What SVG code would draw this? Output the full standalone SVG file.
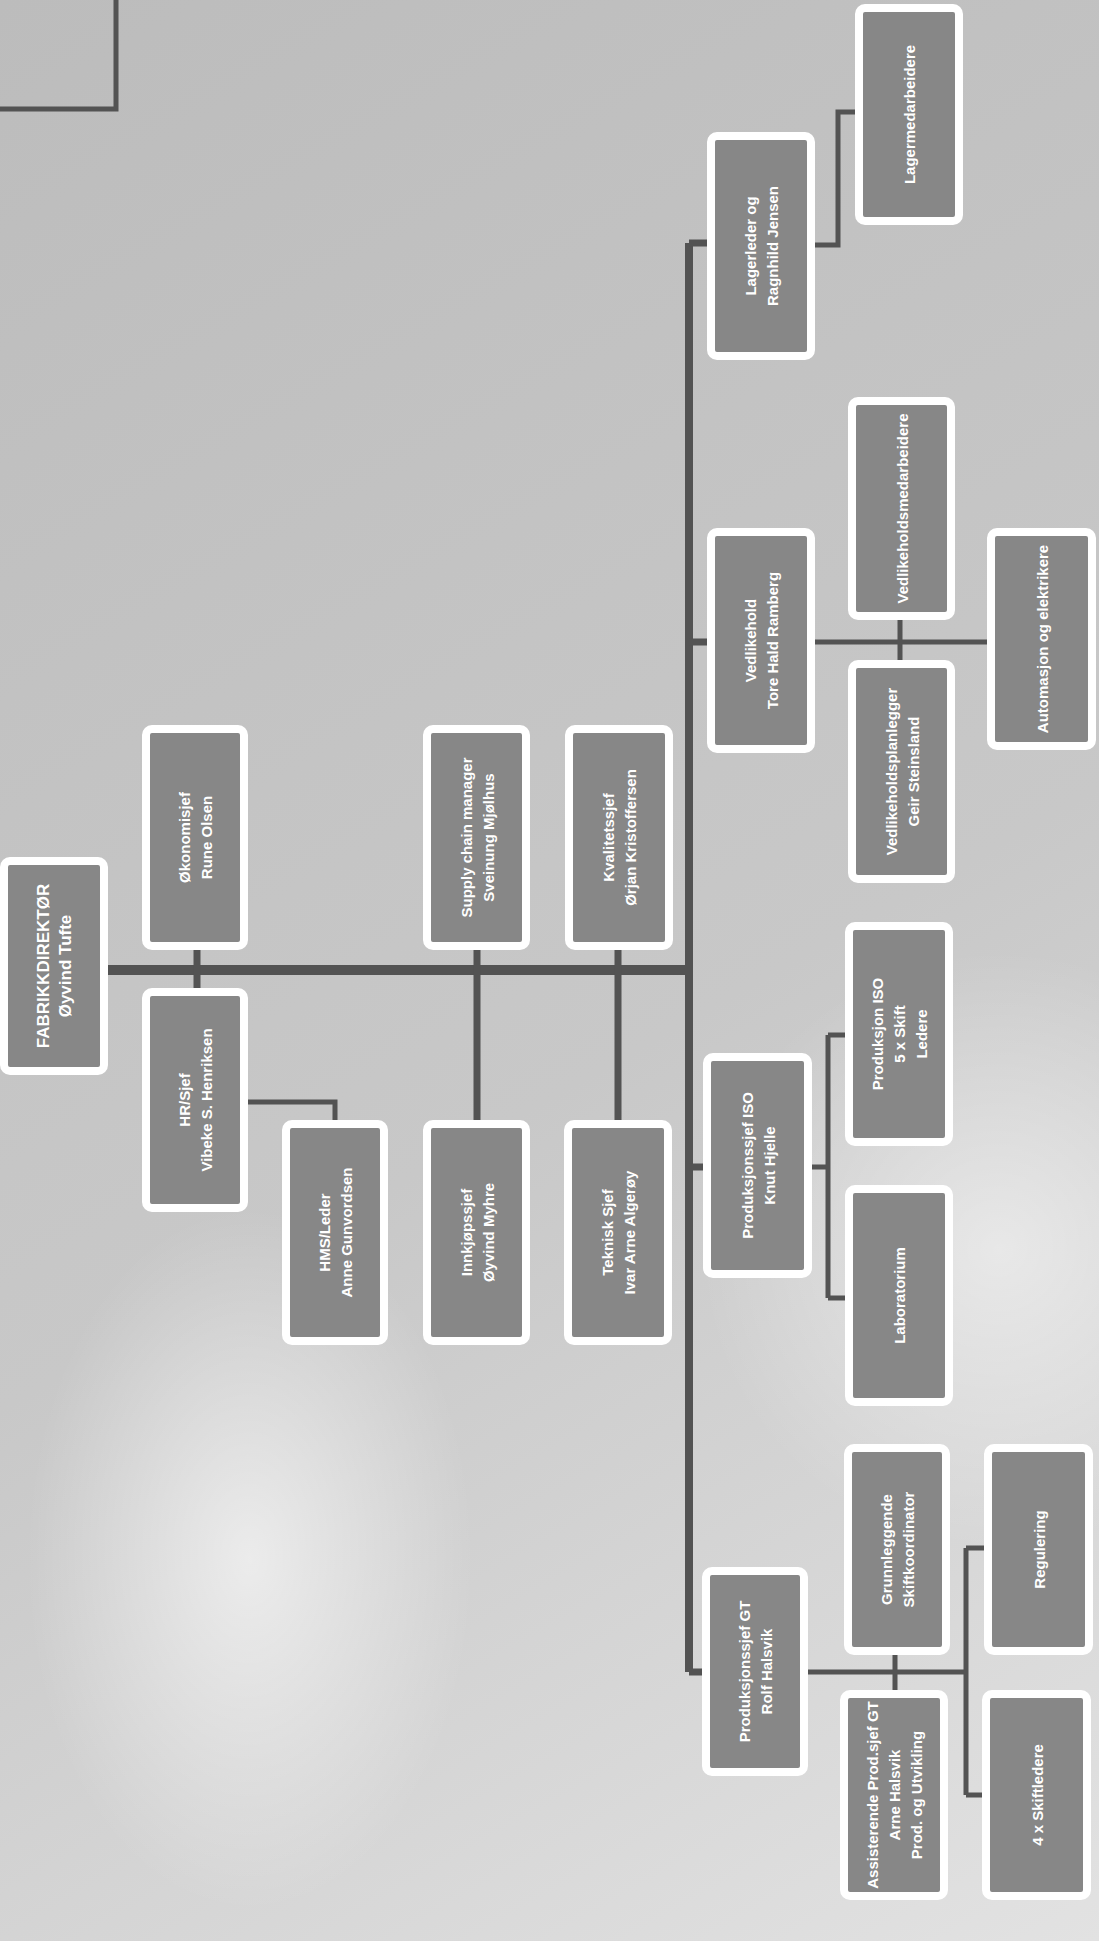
<svg xmlns="http://www.w3.org/2000/svg" width="1099" height="1941" viewBox="0 0 1099 1941">
<defs>
<linearGradient id="bg" x1="0" y1="0" x2="1099" y2="1941" gradientUnits="userSpaceOnUse">
<stop offset="0" stop-color="#bcbcbc"/>
<stop offset="0.55" stop-color="#c8c8c8"/>
<stop offset="1" stop-color="#e2e2e2"/>
</linearGradient>
<radialGradient id="cloud" cx="250" cy="1560" r="320" gradientUnits="userSpaceOnUse" gradientTransform="translate(250 1560) scale(0.7 1.1) translate(-250 -1560)">
<stop offset="0" stop-color="#ffffff" stop-opacity="0.6"/>
<stop offset="1" stop-color="#ffffff" stop-opacity="0"/>
</radialGradient>
<radialGradient id="cloud2" cx="1000" cy="1250" r="300" gradientUnits="userSpaceOnUse">
<stop offset="0" stop-color="#ffffff" stop-opacity="0.5"/>
<stop offset="1" stop-color="#ffffff" stop-opacity="0"/>
</radialGradient>
</defs>
<style>
.box{fill:#878787;stroke:#ffffff;stroke-width:8}
.lbl{fill:#ffffff;font-family:"Liberation Sans",Arial,sans-serif;font-size:15px;font-weight:bold;text-anchor:middle;dominant-baseline:central}
.big{font-size:17px}
.conn path{fill:none;stroke:#535353;stroke-linecap:butt;stroke-linejoin:miter}
.w10{stroke-width:10}
.w8{stroke-width:8}
.w7{stroke-width:7}
.w5{stroke-width:5}
</style>
<rect x="0" y="0" width="1099" height="1941" fill="url(#bg)"/>
<rect x="0" y="1100" width="700" height="841" fill="url(#cloud)"/>
<rect x="600" y="900" width="499" height="700" fill="url(#cloud2)"/>

<g id="connectors" class="conn">
<path class="w5" d="M116,0 V109 H0"/>
<path class="w10" d="M104,970 H689"/>
<path class="w8" d="M689,243 V1672"/>
<path class="w7" d="M689,243 H711 M689,642 H711 M689,1167 H707 M689,1672 H706"/>
<path class="w7" d="M197,950 V988"/>
<path class="w5" d="M248,1102 H335 V1120"/>
<path class="w7" d="M477,950 V1120"/>
<path class="w7" d="M618,950 V1120"/>
<path class="w5" d="M815,245 H838 V112 H855"/>
<path class="w5" d="M815,642 H988 M900,620 V660"/>
<path class="w5" d="M812,1167 H828 M828,1035 V1298 M828,1035 H845 M828,1298 H845"/>
<path class="w5" d="M808,1672 H967 M895,1655 V1690 M966,1548 V1795 M966,1548 H984 M966,1795 H982"/>
</g>

<g id="n-root"><rect class="box" x="4" y="861" width="100" height="210" rx="6"/>
<text class="lbl big" transform="translate(54,966) rotate(-90)"><tspan x="0" y="-11">FABRIKKDIREKTØR</tspan><tspan x="0" y="11">Øyvind Tufte</tspan></text></g>

<g id="n-oko"><rect class="box" x="146" y="729" width="98" height="217" rx="6"/>
<text class="lbl" transform="translate(195,837.5) rotate(-90)"><tspan x="0" y="-11">Økonomisjef</tspan><tspan x="0" y="11">Rune Olsen</tspan></text></g>

<g id="n-hr"><rect class="box" x="146" y="992" width="98" height="216" rx="6"/>
<text class="lbl" transform="translate(195,1100) rotate(-90)"><tspan x="0" y="-11">HR/Sjef</tspan><tspan x="0" y="11">Vibeke S. Henriksen</tspan></text></g>

<g id="n-hms"><rect class="box" x="286" y="1124" width="98" height="217" rx="6"/>
<text class="lbl" transform="translate(335,1232.5) rotate(-90)"><tspan x="0" y="-11">HMS/Leder</tspan><tspan x="0" y="11">Anne Gunvordsen</tspan></text></g>

<g id="n-sup"><rect class="box" x="427" y="729" width="99" height="217" rx="6"/>
<text class="lbl" transform="translate(476.5,837.5) rotate(-90)"><tspan x="0" y="-11">Supply chain manager</tspan><tspan x="0" y="11">Sveinung Mjølhus</tspan></text></g>

<g id="n-inn"><rect class="box" x="427" y="1124" width="99" height="217" rx="6"/>
<text class="lbl" transform="translate(476.5,1232.5) rotate(-90)"><tspan x="0" y="-11">Innkjøpssjef</tspan><tspan x="0" y="11">Øyvind Myhre</tspan></text></g>

<g id="n-kval"><rect class="box" x="569" y="729" width="100" height="217" rx="6"/>
<text class="lbl" transform="translate(619,837.5) rotate(-90)"><tspan x="0" y="-11">Kvalitetssjef</tspan><tspan x="0" y="11">Ørjan Kristoffersen</tspan></text></g>

<g id="n-tek"><rect class="box" x="568" y="1124" width="100" height="217" rx="6"/>
<text class="lbl" transform="translate(618,1232.5) rotate(-90)"><tspan x="0" y="-11">Teknisk Sjef</tspan><tspan x="0" y="11">Ivar Arne Algerøy</tspan></text></g>

<g id="n-lager"><rect class="box" x="711" y="136" width="100" height="220" rx="6"/>
<text class="lbl" transform="translate(761,246) rotate(-90)"><tspan x="0" y="-11">Lagerleder og</tspan><tspan x="0" y="11">Ragnhild Jensen</tspan></text></g>

<g id="n-lagerc"><rect class="box" x="859" y="8" width="100" height="213" rx="6"/>
<text class="lbl" transform="translate(909,114.5) rotate(-90)"><tspan x="0" y="0">Lagermedarbeidere</tspan></text></g>

<g id="n-ved"><rect class="box" x="711" y="532" width="100" height="217" rx="6"/>
<text class="lbl" transform="translate(761,640.5) rotate(-90)"><tspan x="0" y="-11">Vedlikehold</tspan><tspan x="0" y="11">Tore Hald Ramberg</tspan></text></g>

<g id="n-veda"><rect class="box" x="852" y="401" width="99" height="215" rx="6"/>
<text class="lbl" transform="translate(901.5,508.5) rotate(-90)"><tspan x="0" y="0">Vedlikeholdsmedarbeidere</tspan></text></g>

<g id="n-vedb"><rect class="box" x="852" y="664" width="99" height="215" rx="6"/>
<text class="lbl" transform="translate(901.5,771.5) rotate(-90)"><tspan x="0" y="-11">Vedlikeholdsplanlegger</tspan><tspan x="0" y="11">Geir Steinsland</tspan></text></g>

<g id="n-vedc"><rect class="box" x="991" y="532" width="101" height="214" rx="6"/>
<text class="lbl" transform="translate(1041.5,639) rotate(-90)"><tspan x="0" y="0">Automasjon og elektrikere</tspan></text></g>

<g id="n-iso"><rect class="box" x="707" y="1057" width="101" height="217" rx="6"/>
<text class="lbl" transform="translate(757.5,1165.5) rotate(-90)"><tspan x="0" y="-11">Produksjonssjef ISO</tspan><tspan x="0" y="11">Knut Hjelle</tspan></text></g>

<g id="n-isoa"><rect class="box" x="849" y="926" width="100" height="216" rx="6"/>
<text class="lbl" transform="translate(899,1034) rotate(-90)"><tspan x="0" y="-22">Produksjon ISO</tspan><tspan x="0" y="0">5 x Skift</tspan><tspan x="0" y="22">Ledere</tspan></text></g>

<g id="n-isob"><rect class="box" x="849" y="1189" width="100" height="213" rx="6"/>
<text class="lbl" transform="translate(899,1295.5) rotate(-90)"><tspan x="0" y="0">Laboratorium</tspan></text></g>

<g id="n-gt"><rect class="box" x="706" y="1571" width="98" height="201" rx="6"/>
<text class="lbl" transform="translate(755,1671.5) rotate(-90)"><tspan x="0" y="-11">Produksjonssjef GT</tspan><tspan x="0" y="11">Rolf Halsvik</tspan></text></g>

<g id="n-gta"><rect class="box" x="848" y="1448" width="98" height="203" rx="6"/>
<text class="lbl" transform="translate(897,1549.5) rotate(-90)"><tspan x="0" y="-11">Grunnleggende</tspan><tspan x="0" y="11">Skiftkoordinator</tspan></text></g>

<g id="n-gtb"><rect class="box" x="844" y="1694" width="100" height="202" rx="6"/>
<text class="lbl" transform="translate(894,1795) rotate(-90)"><tspan x="0" y="-22">Assisterende Prod.sjef GT</tspan><tspan x="0" y="0">Arne Halsvik</tspan><tspan x="0" y="22">Prod. og Utvikling</tspan></text></g>

<g id="n-gtc"><rect class="box" x="988" y="1448" width="101" height="203" rx="6"/>
<text class="lbl" transform="translate(1038.5,1549.5) rotate(-90)"><tspan x="0" y="0">Regulering</tspan></text></g>

<g id="n-gtd"><rect class="box" x="986" y="1694" width="101" height="202" rx="6"/>
<text class="lbl" transform="translate(1036.5,1795) rotate(-90)"><tspan x="0" y="0">4 x Skiftledere</tspan></text></g>
</svg>
